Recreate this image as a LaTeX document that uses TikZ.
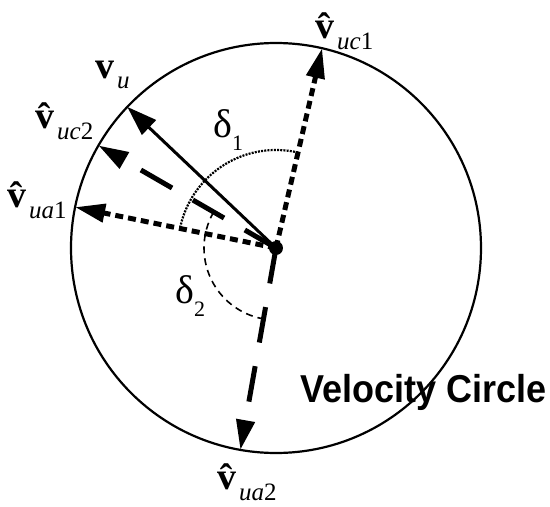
\documentclass[tikz,border=0pt]{standalone}
\usepackage{fontspec}
\setmainfont{Liberation Serif}
\newfontfamily\labelsans{Liberation Sans}
\usetikzlibrary{arrows.meta}

% hat-v label with subscript
\newcommand{\vhat}[2]{{\fontsize{38}{38}\selectfont\bfseries\^{v}}\kern3pt\raisebox{-11pt}{\fontsize{25}{25}\selectfont\itshape #1\upshape #2}}
\newcommand{\vplain}[1]{{\fontsize{38}{38}\selectfont\bfseries v}\kern3pt\raisebox{-10pt}{\fontsize{25}{25}\selectfont\itshape #1}}
\newcommand{\dlab}[1]{{\fontsize{40}{40}\selectfont δ}\raisebox{-13pt}{\fontsize{22}{22}\selectfont #1}}

\begin{document}
\begin{tikzpicture}[x=1pt, y=1pt,
      lab/.style = {inner sep=0pt, anchor=base west},
      tip/.style = {-{Triangle[length=30pt, width=18pt]}},
      dotvec/.style = {tip, line width=5pt, dash pattern=on 8pt off 5pt},
      dashvec/.style = {tip, line width=5pt, dash pattern=on 36pt off 24pt},
      solidvec/.style = {-{Triangle[length=30pt, width=20pt]}, line width=3pt},
      arcone/.style = {line width=2.2pt, dash pattern=on 2pt off 1.2pt},
      arctwo/.style = {line width=1.6pt, dash pattern=on 7pt off 5pt}
      ]
      \useasboundingbox (-276,-259) rectangle (274,248);

      \coordinate (O) at (0,0);
      \coordinate (uc1) at (77:205);
      \coordinate (u) at (136.5:205);
      \coordinate (uc2) at (150:205);
      \coordinate (ua1) at (168.5:205);
      \coordinate (ua2) at (260:205);

      \draw[line width=2.2pt] (O) circle (205);

      % angles
      \draw[arcone] ([shift={(77:98)}]O) arc[start angle=77, end angle=168.5, radius=98];
      \draw[arctwo] ([shift={(150:72)}]O) arc[start angle=150, end angle=258, radius=72];

      % vectors
      \draw[dotvec] (O) -- (uc1);
      \draw[dotvec] (O) -- (ua1);
      \draw[dashvec] (O) -- (uc2);
      \draw[dashvec] (O) -- (ua2);
      \draw[solidvec] (O) -- (u);
      \fill (O) circle (7);

      % labels
      \node[lab] (Luc1) at (39,210) {\vhat{uc}{1}};
      \node[lab] (Lu) at (-181,170) {\vplain{u}};
      \node[lab] (Luc2) at (-241,120) {\vhat{uc}{2}};
      \node[lab] (Lua1) at (-269,41) {\vhat{ua}{1}};
      \node[lab] (Lua2) at (-59,-241) {\vhat{ua}{2}};
      \node[lab] (Ld1) at (-63,111) {\dlab{1}};
      \node[lab] (Ld2) at (-101,-55) {\dlab{2}};
      \node[lab] (title) at (24,-154) {\labelsans\bfseries\fontsize{36}{36}\selectfont\scalebox{1}[1.08]{Velocity Circle}};
\end{tikzpicture}
\end{document}
